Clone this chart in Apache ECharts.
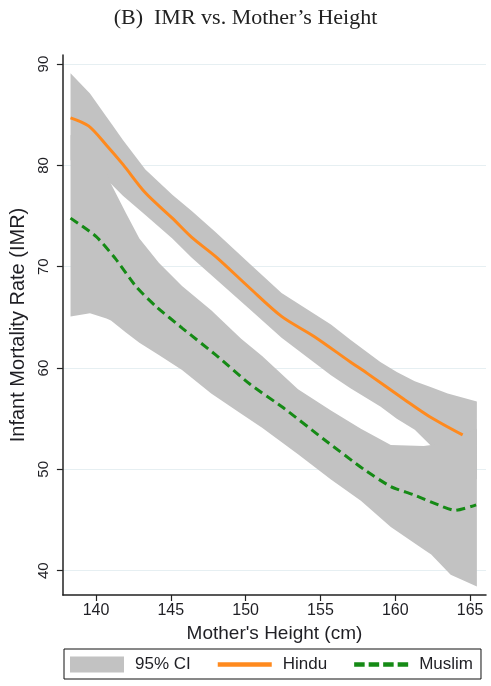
<!DOCTYPE html>
<html>
<head>
<meta charset="utf-8">
<title>IMR vs. Mother's Height</title>
<script src="https://cdn.jsdelivr.net/npm/echarts@6/dist/echarts.min.js"></script>
<style>
  html, body { margin: 0; padding: 0; background: #fff; }
  #chart { width: 491px; height: 686px; }
</style>
</head>
<body>
<div id="chart"></div>
<script>
// axis ticks
const xTicks = [140, 145, 150, 155, 160, 165]
const yTicks = [40, 50, 60, 70, 80, 90]

// Hindu lowess fit
const hinduX = [138.3, 139.5, 140.7, 141.8, 143.3, 145.1, 146.4, 148.0, 150.2, 152.4, 154.6, 157.0, 158.1, 160.6, 162.3, 164.5]
const hinduY = [84.7, 83.9, 82.0, 80.1, 77.3, 74.8, 72.9, 71.0, 68.0, 65.1, 63.1, 60.6, 59.5, 56.9, 55.2, 53.4]

// Muslim lowess fit
const muslimX = [138.3, 140.0, 141.3, 142.7, 144.0, 145.8, 148.0, 150.3, 152.5, 155.2, 157.9, 159.7, 161.2, 163.2, 164.0, 165.4]
const muslimY = [74.8, 73.0, 70.8, 68.0, 66.1, 63.9, 61.3, 58.4, 56.1, 53.0, 50.0, 48.3, 47.5, 46.3, 45.95, 46.5]

// 95% CI, Hindu
const hinduCiX = [138.3, 139.6, 140.7, 141.0, 141.8, 143.3, 145.1, 146.4, 148.0, 150.2, 152.4, 155.7, 157.0, 159.0, 160.1, 161.3, 162.4, 163.5, 165.45]
const hinduCiHi = [89.1, 87.1, 84.8, 84.2, 82.5, 79.6, 77.1, 75.5, 73.4, 70.4, 67.4, 64.3, 62.8, 60.6, 59.6, 58.7, 58.1, 57.5, 56.7]
const hinduCiLo = [80.5, 79.6, 78.6, 78.2, 77.0, 75.1, 72.8, 70.9, 68.8, 65.9, 63.0, 59.3, 58.0, 56.2, 55.0, 53.9, 52.3, 51.0, 49.0]

// 95% CI, Muslim
const muslimCiX = [138.3, 139.6, 140.7, 141.0, 142.0, 142.9, 144.2, 145.75, 147.7, 149.7, 151.1, 153.5, 155.7, 157.7, 159.7, 161.9, 162.4, 163.7, 165.45]
const muslimCiHi = [83.0, 81.5, 79.4, 78.2, 75.3, 72.8, 70.4, 68.1, 65.7, 62.9, 61.2, 57.9, 55.8, 54.0, 52.4, 52.3, 52.4, 53.0, 54.0]
const muslimCiLo = [65.1, 65.4, 64.9, 64.7, 63.5, 62.5, 61.3, 59.8, 57.5, 55.5, 54.1, 51.5, 49.0, 46.9, 44.3, 42.1, 41.6, 39.6, 38.45]

const FONT = 'Liberation Sans, Arial, Helvetica, sans-serif'
const INK = '#1f1f24'
const CI_GRAY = '#c2c2c2'
const ORANGE = '#ff8a1e'
const GREEN = '#158a15'

function pairs(xs, ys) {
  return xs.map((x, i) => [x, ys[i]])
}

// polygon of a band: upper edge left->right, lower edge right->left
function bandSeries(name, xs, hi, lo) {
  return {
    name: name,
    type: 'custom',
    z: 2,
    silent: true,
    itemStyle: { color: CI_GRAY },
    data: xs.map((x, i) => [x, lo[i], hi[i]]),
    encode: { x: 0, y: [1, 2] },
    renderItem: function (params, api) {
      if (params.dataIndex !== 0) return null
      const pts = []
      for (let i = 0; i < xs.length; i++) pts.push(api.coord([xs[i], hi[i]]))
      for (let i = xs.length - 1; i >= 0; i--) pts.push(api.coord([xs[i], lo[i]]))
      return {
        type: 'polygon',
        shape: { points: pts },
        style: { fill: CI_GRAY, stroke: null }
      }
    }
  }
}

const chart = echarts.init(document.getElementById('chart'), null, { renderer: 'canvas' })

chart.setOption({
  animation: false,
  backgroundColor: '#fff',
  title: {
    text: '(B)  IMR vs. Mother\u2019s Height',
    left: 'center',
    top: 2,
    textStyle: { fontFamily: 'Liberation Serif, Times New Roman, serif', fontSize: 22, fontWeight: 'normal', color: '#222' }
  },
  grid: { left: 60, right: 5, top: 55, bottom: 91 },
  legend: {
    left: 64,
    top: 649,
    orient: 'horizontal',
    padding: [7, 8, 6, 6],
    itemGap: 27,
    itemWidth: 54,
    itemHeight: 16,
    borderColor: '#111',
    borderWidth: 1,
    textStyle: { fontFamily: FONT, fontSize: 17, color: INK, padding: [0, 0, 0, 6] },
    data: [
      { name: '95% CI', icon: 'rect', itemStyle: { color: CI_GRAY } },
      { name: 'Hindu', icon: 'path://M0,0H54V4.5H0Z' },
      { name: 'Muslim', icon: 'path://M0,0h10.5v4.5h-10.5z M14.5,0h10.5v4.5h-10.5z M29,0h10.5v4.5h-10.5z M43.5,0h10.5v4.5h-10.5z' }
    ]
  },
  xAxis: {
    type: 'value',
    min: 137.79,
    max: 166.06,
    name: 'Mother\'s Height (cm)',
    nameLocation: 'middle',
    nameGap: 27,
    nameTextStyle: { fontFamily: FONT, fontSize: 19, color: INK },
    axisLine: { onZero: false, lineStyle: { color: '#222', width: 1.5 } },
    axisTick: { customValues: xTicks, length: 6, lineStyle: { color: '#222', width: 1.2 } },
    axisLabel: { customValues: xTicks, margin: 8, fontFamily: FONT, fontSize: 16, color: INK },
    splitLine: { show: false }
  },
  yAxis: {
    type: 'value',
    min: 37.6,
    max: 90.9,
    name: 'Infant Mortality Rate (IMR)',
    nameLocation: 'middle',
    nameGap: 26,
    nameTextStyle: { fontFamily: FONT, fontSize: 20, color: INK },
    axisLine: { show: true, onZero: false, lineStyle: { color: '#222', width: 1.5 } },
    axisTick: { show: true, customValues: yTicks, length: 6, lineStyle: { color: '#222', width: 1.2 } },
    axisLabel: { customValues: yTicks, rotate: 90, margin: 12, fontFamily: FONT, fontSize: 15, color: INK },
    splitLine: { show: true, lineStyle: { color: '#e6eff2', width: 1 } }
  },
  series: [
    bandSeries('95% CI', hinduCiX, hinduCiHi, hinduCiLo),
    bandSeries('95% CI', muslimCiX, muslimCiHi, muslimCiLo),
    {
      name: 'Hindu',
      type: 'line',
      z: 4,
      smooth: 0.3,
      symbol: 'none',
      data: pairs(hinduX, hinduY),
      itemStyle: { color: ORANGE },
      lineStyle: { color: ORANGE, width: 3 }
    },
    {
      name: 'Muslim',
      type: 'line',
      z: 4,
      smooth: 0.2,
      symbol: 'none',
      data: pairs(muslimX, muslimY),
      itemStyle: { color: GREEN },
      lineStyle: { color: GREEN, width: 3, type: [9, 5] }
    }
  ]
})

window.addEventListener('resize', () => chart.resize())
</script>
</body>
</html>
